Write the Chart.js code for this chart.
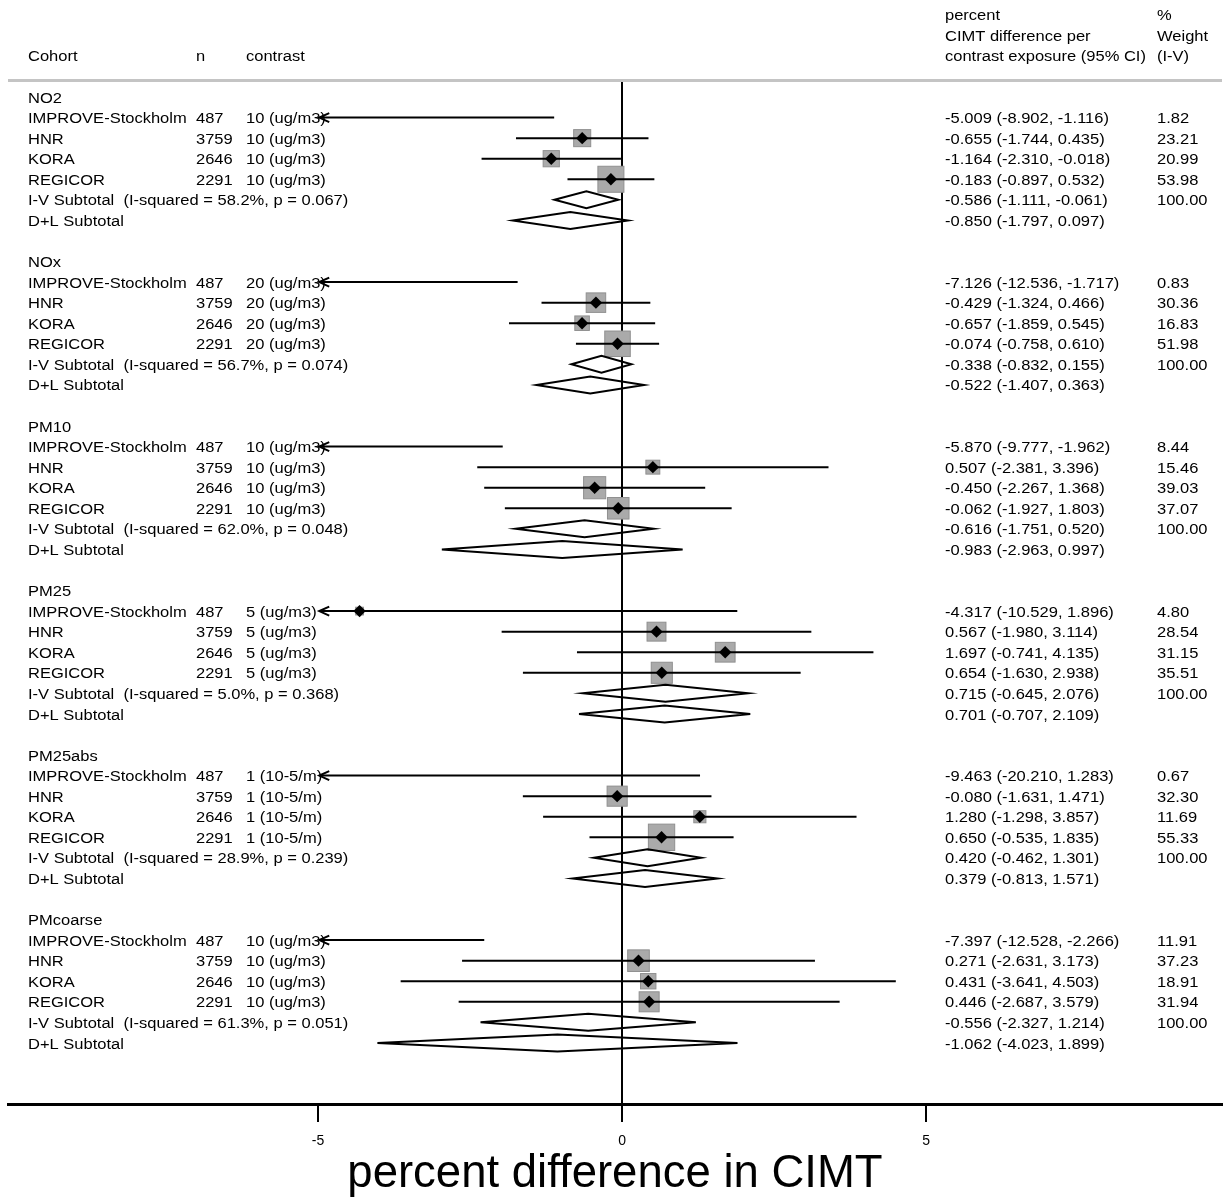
<!DOCTYPE html>
<html>
<head>
<meta charset="utf-8">
<script src="https://cdn.jsdelivr.net/npm/chart.js@4.4.0/dist/chart.umd.min.js"></script>
<style>
  html, body { margin: 0; padding: 0; background: #fff; }
  #wrap { width: 1225px; height: 1197px; }
</style>
</head>
<body>
<div id="wrap"><canvas id="forest"></canvas></div>
<script>
// Dane
const exposures = ['NO2', 'NOx', 'PM10', 'PM25', 'PM25abs', 'PMcoarse'];
const cohorts = ['IMPROVE-Stockholm', 'HNR', 'KORA', 'REGICOR'];
const sampleSizes = [487, 3759, 2646, 2291];
const contrasts = ['10 (ug/m3)', '20 (ug/m3)', '10 (ug/m3)', '5 (ug/m3)', '1 (10-5/m)', '10 (ug/m3)'];

const estimates = [
  [-5.009, -0.655, -1.164, -0.183],
  [-7.126, -0.429, -0.657, -0.074],
  [-5.870, 0.507, -0.450, -0.062],
  [-4.317, 0.567, 1.697, 0.654],
  [-9.463, -0.080, 1.280, 0.650],
  [-7.397, 0.271, 0.431, 0.446]
];
const lowerCI = [
  [-8.902, -1.744, -2.310, -0.897],
  [-12.536, -1.324, -1.859, -0.758],
  [-9.777, -2.381, -2.267, -1.927],
  [-10.529, -1.980, -0.741, -1.630],
  [-20.210, -1.631, -1.298, -0.535],
  [-12.528, -2.631, -3.641, -2.687]
];
const upperCI = [
  [-1.116, 0.435, -0.018, 0.532],
  [-1.717, 0.466, 0.545, 0.610],
  [-1.962, 3.396, 1.368, 1.803],
  [1.896, 3.114, 4.135, 2.938],
  [1.283, 1.471, 3.857, 1.835],
  [-2.266, 3.173, 4.503, 3.579]
];
const weights = [
  [1.82, 23.21, 20.99, 53.98],
  [0.83, 30.36, 16.83, 51.98],
  [8.44, 15.46, 39.03, 37.07],
  [4.80, 28.54, 31.15, 35.51],
  [0.67, 32.30, 11.69, 55.33],
  [11.91, 37.23, 18.91, 31.94]
];

// podsumowania I-V (fixed) i D+L (random)
const ivEst = [-0.586, -0.338, -0.616, 0.715, 0.420, -0.556];
const ivLow = [-1.111, -0.832, -1.751, -0.645, -0.462, -2.327];
const ivHigh = [-0.061, 0.155, 0.520, 2.076, 1.301, 1.214];
const iSquared = ['58.2%', '56.7%', '62.0%', '5.0%', '28.9%', '61.3%'];
const pValues = ['0.067', '0.074', '0.048', '0.368', '0.239', '0.051'];
const dlEst = [-0.850, -0.522, -0.983, 0.701, 0.379, -1.062];
const dlLow = [-1.797, -1.407, -2.963, -0.707, -0.813, -4.023];
const dlHigh = [0.097, 0.363, 0.997, 2.109, 1.571, 1.899];

const xTicks = [-5, 0, 5];
const X_MIN = -10.099, X_MAX = 9.868;   // zakres osi
const CLIP_MIN = -4.98, CLIP_MAX = 9.8; // obcięcie przedziałów (strzałki)
const ROWS_PER_GROUP = 8;
const Y_MIN = -0.73, Y_MAX = 48.97;

const FONT = '"Liberation Sans", Arial, Helvetica, sans-serif';
const TEXT_SIZE = 15.5;
const TEXT_STRETCH = 1.065;

const fmt3 = v => v.toFixed(3);
const ciText = (e, l, h) => `${fmt3(e)} (${fmt3(l)}, ${fmt3(h)})`;

// tekst lekko rozciągnięty w poziomie, jak w oryginale
function drawText(ctx, str, px, py) {
  ctx.save();
  ctx.translate(px, py + 5.6);
  ctx.scale(TEXT_STRETCH, 1);
  ctx.fillText(str, 0, 0);
  ctx.restore();
}

function drawDiamond(ctx, x, yPix, lo, est, hi, halfH, fill) {
  ctx.beginPath();
  ctx.moveTo(x.getPixelForValue(lo), yPix);
  ctx.lineTo(x.getPixelForValue(est), yPix - halfH);
  ctx.lineTo(x.getPixelForValue(hi), yPix);
  ctx.lineTo(x.getPixelForValue(est), yPix + halfH);
  ctx.closePath();
  if (fill) { ctx.fillStyle = '#000'; ctx.fill(); }
  else { ctx.lineWidth = 2; ctx.strokeStyle = '#000'; ctx.stroke(); }
}

const forestPlugin = {
  id: 'forest',
  afterDatasetsDraw(chart) {
    const { ctx, scales: { x, y }, chartArea } = chart;
    const col = { cohort: 28, n: 196, contrast: 246, est: 945, weight: 1157 };

    ctx.save();
    ctx.font = `${TEXT_SIZE}px ${FONT}`;
    ctx.fillStyle = '#000';
    ctx.textBaseline = 'alphabetic';
    ctx.textAlign = 'left';

    // nagłówki kolumn
    drawText(ctx, 'Cohort', col.cohort, y.getPixelForValue(-2));
    drawText(ctx, 'n', col.n, y.getPixelForValue(-2));
    drawText(ctx, 'contrast', col.contrast, y.getPixelForValue(-2));
    drawText(ctx, 'percent', col.est, y.getPixelForValue(-4));
    drawText(ctx, 'CIMT difference per', col.est, y.getPixelForValue(-3));
    drawText(ctx, 'contrast exposure (95% CI)', col.est, y.getPixelForValue(-2));
    drawText(ctx, '%', col.weight, y.getPixelForValue(-4));
    drawText(ctx, 'Weight', col.weight, y.getPixelForValue(-3));
    drawText(ctx, '(I-V)', col.weight, y.getPixelForValue(-2));

    // szara linia pod nagłówkiem
    ctx.strokeStyle = '#c4c4c4';
    ctx.lineWidth = 3;
    ctx.beginPath();
    ctx.moveTo(chartArea.left, chartArea.top - 1.5);
    ctx.lineTo(chartArea.right, chartArea.top - 1.5);
    ctx.stroke();

    const boxScale = 3.54;
    exposures.forEach((name, g) => {
      const base = g * ROWS_PER_GROUP;
      ctx.fillStyle = '#000';
      drawText(ctx, name, col.cohort, y.getPixelForValue(base));

      cohorts.forEach((cohort, i) => {
        const yPix = y.getPixelForValue(base + 1 + i);
        const est = estimates[g][i], lo = lowerCI[g][i], hi = upperCI[g][i];

        ctx.fillStyle = '#000';
        drawText(ctx, cohort, col.cohort, yPix);
        drawText(ctx, String(sampleSizes[i]), col.n, yPix);
        drawText(ctx, contrasts[g], col.contrast, yPix);
        drawText(ctx, ciText(est, lo, hi), col.est, yPix);
        drawText(ctx, weights[g][i].toFixed(2), col.weight, yPix);

        const inRange = est >= CLIP_MIN && est <= CLIP_MAX;
        const xe = x.getPixelForValue(est);

        // kwadrat wagi
        if (inRange) {
          const side = boxScale * Math.sqrt(weights[g][i]);
          ctx.fillStyle = '#aaaaaa';
          ctx.strokeStyle = '#909090';
          ctx.lineWidth = 1;
          ctx.fillRect(xe - side / 2, yPix - side / 2, side, side);
          ctx.strokeRect(xe - side / 2, yPix - side / 2, side, side);
        }

        // przedział ufności
        const xl = x.getPixelForValue(Math.max(lo, CLIP_MIN));
        const xh = x.getPixelForValue(Math.min(hi, CLIP_MAX));
        ctx.strokeStyle = '#000';
        ctx.lineWidth = 2;
        ctx.beginPath();
        ctx.moveTo(xl, yPix);
        ctx.lineTo(xh, yPix);
        ctx.stroke();
        if (lo < CLIP_MIN) {
          ctx.beginPath();
          ctx.moveTo(xl + 10, yPix - 4.5);
          ctx.lineTo(xl, yPix);
          ctx.lineTo(xl + 10, yPix + 4.5);
          ctx.stroke();
        }
        if (hi > CLIP_MAX) {
          ctx.beginPath();
          ctx.moveTo(xh - 10, yPix - 4.5);
          ctx.lineTo(xh, yPix);
          ctx.lineTo(xh - 10, yPix + 4.5);
          ctx.stroke();
        }

        // punkt oszacowania
        if (inRange) {
          ctx.fillStyle = '#000';
          ctx.beginPath();
          ctx.moveTo(xe - 6.2, yPix);
          ctx.lineTo(xe, yPix - 6.2);
          ctx.lineTo(xe + 6.2, yPix);
          ctx.lineTo(xe, yPix + 6.2);
          ctx.closePath();
          ctx.fill();
        }
      });

      // I-V subtotal
      const yIV = y.getPixelForValue(base + 5);
      ctx.fillStyle = '#000';
      drawText(ctx, `I-V Subtotal  (I-squared = ${iSquared[g]}, p = ${pValues[g]})`, col.cohort, yIV);
      drawText(ctx, ciText(ivEst[g], ivLow[g], ivHigh[g]), col.est, yIV);
      drawText(ctx, '100.00', col.weight, yIV);
      drawDiamond(ctx, x, yIV, ivLow[g], ivEst[g], ivHigh[g], 8.5, false);

      // D+L subtotal
      const yDL = y.getPixelForValue(base + 6);
      ctx.fillStyle = '#000';
      drawText(ctx, 'D+L Subtotal', col.cohort, yDL);
      drawText(ctx, ciText(dlEst[g], dlLow[g], dlHigh[g]), col.est, yDL);
      drawDiamond(ctx, x, yDL, dlLow[g], dlEst[g], dlHigh[g], 8.5, false);
    });

    ctx.restore();
  }
};

new Chart(document.getElementById('forest'), {
  type: 'scatter',
  data: { datasets: [] },
  options: {
    responsive: true,
    maintainAspectRatio: false,
    animation: false,
    layout: { padding: { left: 8, right: 3, top: 82, bottom: 0 } },
    plugins: { legend: { display: false }, tooltip: { enabled: false } },
    scales: {
      x: {
        type: 'linear',
        position: 'bottom',
        min: X_MIN,
        max: X_MAX,
        afterBuildTicks: s => { s.ticks = xTicks.map(v => ({ value: v })); },
        afterFit: s => { s.height = 93; },
        border: { display: true, color: '#000', width: 3 },
        grid: {
          drawOnChartArea: true,
          drawTicks: true,
          tickLength: 18,
          lineWidth: 2,
          color: c => (c.tick && c.tick.value === 0 ? '#000' : 'rgba(0,0,0,0)'),
          tickColor: '#000'
        },
        ticks: {
          color: '#000',
          padding: 11,
          font: { family: FONT, size: 14 },
          callback: v => String(v)
        },
        title: {
          display: true,
          text: 'percent difference in CIMT',
          color: '#000',
          font: { family: FONT, size: 45.5, lineHeight: 1 },
          padding: { top: 0, bottom: 0 }
        }
      },
      y: { type: 'linear', display: false, reverse: true, min: Y_MIN, max: Y_MAX }
    }
  },
  plugins: [forestPlugin]
});
</script>
</body>
</html>
